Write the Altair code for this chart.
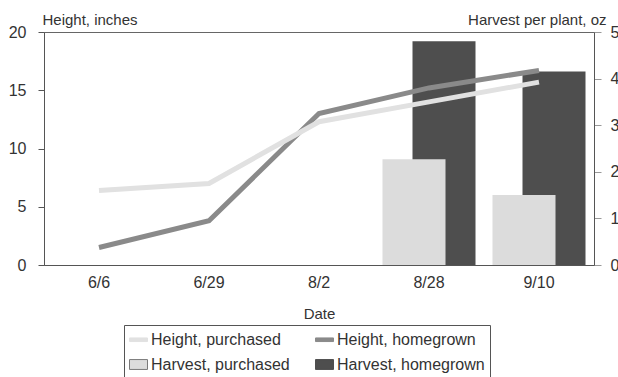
import altair as alt
import pandas as pd

# ---- data ----
dates = ["6/6", "6/29", "8/2", "8/28", "9/10"]
height_purchased = [6.4, 7.0, 12.3, 14.0, 15.7]
height_homegrown = [1.5, 3.8, 13.0, 15.2, 16.7]
harvest_purchased = [None, None, None, 2.27, 1.5]
harvest_homegrown = [None, None, None, 4.8, 4.15]
series_names = ["Height, purchased", "Height, homegrown",
                "Harvest, purchased", "Harvest, homegrown"]
height_ticks = [0, 5, 10, 15, 20]
harvest_ticks = [0, 1, 2, 3, 4, 5]

# ---- styles ----
FONT = "Liberation Sans"
TXT = "#333333"
LIGHT_LINE = "#e1e1e1"
MID_LINE = "#8a8a8a"
LIGHT_BAR = "#dcdcdc"
DARK_BAR = "#4e4e4e"
AXIS_C = "#555555"

df = pd.DataFrame({
    "date": dates,
    "hp": height_purchased,
    "hh": height_homegrown,
    "vp": harvest_purchased,
    "vh": harvest_homegrown,
})
legend_df = pd.DataFrame({"series": series_names})

x = alt.X("date:N", sort=dates,
          scale=alt.Scale(type="band", paddingInner=0, paddingOuter=0),
          axis=alt.Axis(title="Date", ticks=False, tickSize=0, labelPadding=9,
                        labelFontSize=16, labelAngle=0, titleFontSize=15,
                        titleFontWeight="normal", titleBaseline="alphabetic",
                        titleY=53, domainColor=AXIS_C))

left_axis = alt.Axis(values=height_ticks, orient="left", title="Height, inches",
                     titleAngle=0, titleAlign="left", titleBaseline="alphabetic",
                     titleX=-2, titleY=-8, titleFontSize=15, titleFontWeight="normal",
                     labelFontSize=16, tickSize=6, labelPadding=12, grid=False,
                     domainColor=AXIS_C, tickColor=AXIS_C)
right_axis = alt.Axis(values=harvest_ticks, orient="right", title="Harvest per plant, oz",
                      titleAngle=0, titleAlign="right", titleBaseline="alphabetic",
                      titleX=12, titleY=-8, titleFontSize=15, titleFontWeight="normal",
                      labelFontSize=16, tickSize=7, labelPadding=9, grid=False,
                      domainColor=AXIS_C, tickColor="#999999")

hscale = alt.Scale(domain=[0, 20])
vscale = alt.Scale(domain=[0, 5])

base = alt.Chart(df)

bar_home = base.mark_bar(color=DARK_BAR, width=63, xOffset=15).encode(
    x=x, y=alt.Y("vh:Q", scale=vscale, axis=right_axis))
bar_purch = base.mark_bar(color=LIGHT_BAR, width=63, xOffset=-15).encode(
    x=x, y=alt.Y("vp:Q", scale=vscale, axis=None))
line_home = base.mark_line(color=MID_LINE, strokeWidth=5, strokeCap="butt").encode(
    x=x, y=alt.Y("hh:Q", scale=hscale, axis=None))
line_purch = base.mark_line(color=LIGHT_LINE, strokeWidth=5, strokeCap="butt").encode(
    x=x, y=alt.Y("hp:Q", scale=hscale, axis=left_axis))

LINE_SYM = "M-1,-0.2H1V0.2H-1Z"
BAR_SYM = "M-1,-0.55H1V0.55H-1Z"
leg = alt.Legend(title=None, orient="none", legendX=80, legendY=293, columns=2,
                 direction="horizontal",
                 padding=5, rowPadding=7, columnPadding=23, symbolSize=324,
                 labelOffset=3, labelFontSize=16, labelColor=TXT, labelFont=FONT,
                 strokeColor="#555555", symbolStrokeWidth=1, labelLimit=300)
legend_layer = alt.Chart(legend_df).mark_point(filled=True, opacity=1, clip=True).encode(
    x=alt.value(-500), y=alt.value(-500),
    shape=alt.Shape("series:N", scale=alt.Scale(domain=series_names,
                    range=[LINE_SYM, LINE_SYM, BAR_SYM, BAR_SYM]), legend=leg),
    fill=alt.Fill("series:N", scale=alt.Scale(domain=series_names,
                  range=[LIGHT_LINE, MID_LINE, LIGHT_BAR, DARK_BAR]), legend=leg),
    stroke=alt.Stroke("series:N", scale=alt.Scale(domain=series_names,
                      range=[LIGHT_LINE, MID_LINE, "#7a7a7a", DARK_BAR]), legend=leg),
)

chart = alt.layer(bar_home, bar_purch, line_home, line_purch, legend_layer).resolve_scale(
    y="independent"
).properties(
    width=550, height=233,
    autosize=alt.AutoSizeParams(type="none"),
    padding={"left": 44, "top": 32, "right": 24, "bottom": 112},
    background="white",
).configure_view(
    stroke="#666666", strokeWidth=1
).configure_axis(
    labelFont=FONT, titleFont=FONT, labelColor=TXT, titleColor=TXT
)

chart.save("out.html", embed_options={"renderer": "svg", "actions": False})
